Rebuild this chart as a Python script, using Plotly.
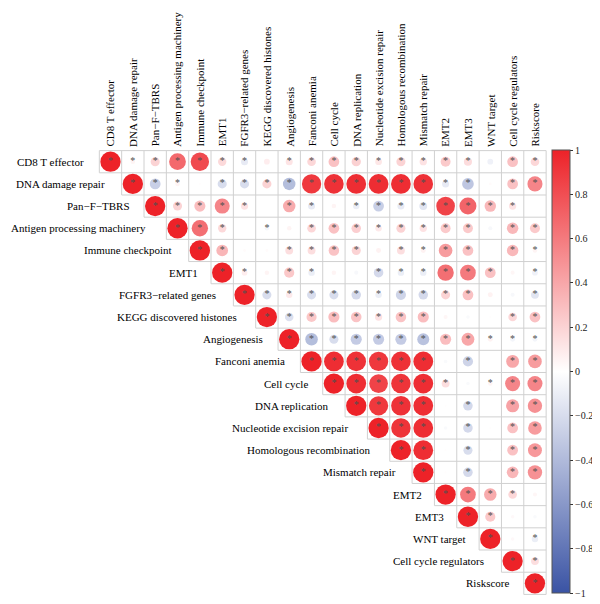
import plotly.graph_objects as go

labels = ["CD8 T effector", "DNA damage repair", "Pan−F−TBRS", "Antigen processing machinery",
          "Immune checkpoint", "EMT1", "FGFR3−related genes", "KEGG discovered histones",
          "Angiogenesis", "Fanconi anemia", "Cell cycle", "DNA replication",
          "Nucleotide excision repair", "Homologous recombination", "Mismatch repair",
          "EMT2", "EMT3", "WNT target", "Cell cycle regulators", "Riskscore"]

# upper-triangle correlations, row i lists columns i..19
r_cd8 = [1, 0.05, 0.2, 0.68, 0.82, 0.17, -0.12, 0.08, 0.12, 0.18, 0.28, 0.21, 0.11, 0.2, 0.13, 0.24, 0.16, -0.08, 0.28, 0.18]
r_ddr = [1, -0.28, 0.05, 0.01, -0.2, -0.2, 0.2, -0.38, 0.9, 0.93, 0.95, 0.95, 0.95, 0.93, -0.12, -0.33, 0.02, 0.28, 0.55]
r_pan = [1, 0.2, 0.3, 0.55, 0.13, 0.0, 0.38, -0.12, 0.05, -0.1, -0.28, -0.12, -0.15, 0.85, 0.7, 0.32, 0.13, 0.0]
r_apm = [1, 0.65, 0.17, 0.0, -0.05, 0.05, 0.18, 0.28, 0.22, 0.1, 0.2, 0.13, 0.24, 0.24, -0.04, 0.32, 0.24]
r_icp = [1, 0.33, 0.02, 0.02, 0.15, 0.15, 0.27, 0.2, 0.06, 0.15, 0.06, 0.45, 0.28, 0.0, 0.32, 0.05]
r_emt1 = [1, 0.08, 0.05, 0.25, -0.1, 0.05, -0.04, -0.22, -0.1, -0.1, 0.65, 0.6, 0.28, 0.04, -0.08]
r_fgfr3 = [1, -0.2, 0.1, -0.2, -0.2, -0.22, -0.1, -0.25, -0.22, 0.2, 0.28, 0.06, -0.04, -0.15]
r_kegg = [1, -0.18, 0.25, 0.3, 0.27, 0.13, 0.27, 0.3, 0.04, -0.03, 0.01, 0.18, 0.28]
r_angio = [1, -0.38, -0.2, -0.3, -0.3, -0.3, -0.35, 0.3, 0.4, 0.06, -0.06, -0.06]
r_fanc = [1, 0.95, 0.93, 0.9, 0.93, 0.95, -0.03, -0.25, 0.0, 0.4, 0.45]
r_cc = [1, 0.95, 0.85, 0.92, 0.95, 0.15, -0.03, 0.05, 0.55, 0.55]
r_dnarep = [1, 0.9, 0.93, 0.95, 0.01, -0.22, 0.0, 0.42, 0.5]
r_ner = [1, 0.92, 0.95, -0.03, -0.22, 0.01, 0.28, 0.45]
r_hr = [1, 0.95, 0.01, -0.2, 0.01, 0.28, 0.47]
r_mmr = [1, 0.01, -0.22, 0.01, 0.33, 0.5]
r_emt2 = [1, 0.6, 0.38, 0.18, 0.04]
r_emt3 = [1, 0.25, 0.03, -0.03]
r_wnt = [1, 0.03, -0.1]
r_ccr = [1, 0.15]
r_risk = [1]
rows = [r_cd8, r_ddr, r_pan, r_apm, r_icp, r_emt1, r_fgfr3, r_kegg, r_angio, r_fanc,
        r_cc, r_dnarep, r_ner, r_hr, r_mmr, r_emt2, r_emt3, r_wnt, r_ccr, r_risk]

# cells without a significance star (row, col)
nonsig = [(0, 7), (0, 17), (1, 4), (1, 17), (2, 7), (2, 10), (2, 19), (3, 6), (3, 8), (3, 17),
          (4, 6), (4, 7), (4, 12), (4, 17), (5, 7), (5, 10), (5, 11), (5, 18), (6, 17), (6, 18),
          (7, 15), (7, 16), (7, 17), (9, 15), (9, 17), (10, 16), (11, 15), (11, 17),
          (12, 15), (12, 17), (13, 15), (13, 17), (14, 15), (14, 17), (15, 19),
          (16, 18), (16, 19), (17, 18)]

cbar_ticks = [1, 0.8, 0.6, 0.4, 0.2, 0, -0.2, -0.4, -0.6, -0.8, -1]

n = len(labels)
OFF = 8                    # page body margin
W, H = 600 - OFF, 604 - OFF
x0px, cw = 110.5 - OFF, 22.34   # col 0 centre, cell width
y0px, ch = 161.7 - OFF, 22.19   # row 0 centre, cell height
FULL_D = 20.3             # circle diameter for |r| = 1
SERIF = "Liberation Serif, Times New Roman, serif"
FS = 11
CB_TOP, CB_BOT = 150 - OFF, 593 - OFF
CB_LEFT, CB_THICK = 551.5 - OFF, 18

xs, ys, vs, sizes = [], [], [], []
sx, sy = [], []
ns = set(nonsig)
for i, row in enumerate(rows):
    for k, v in enumerate(row):
        j = i + k
        xs.append(j); ys.append(i); vs.append(v)
        sizes.append(FULL_D * abs(v) ** 0.5)
        if (i, j) not in ns:
            sx.append(j); sy.append(i)

colorscale = [[0.0, "#3A53A4"], [0.5, "#FFFFFF"], [1.0, "#ED2228"]]

fig = go.Figure()

# grid lines (upper triangle)
gx, gy = [], []
for k in range(n + 1):
    xa = -0.5 if k == 0 else k - 1.5
    gx += [xa, n - 0.5, None]; gy += [k - 0.5, k - 0.5, None]
for m in range(n + 1):
    yb = min(m, n - 1) + 0.5
    gx += [m - 0.5, m - 0.5, None]; gy += [-0.5, yb, None]
fig.add_trace(go.Scatter(x=gx, y=gy, mode="lines", line=dict(color="#D0D0D0", width=1),
                         hoverinfo="skip", showlegend=False))

fig.add_trace(go.Scatter(
    x=xs, y=ys, mode="markers", showlegend=False,
    marker=dict(size=sizes, color=vs, colorscale=colorscale, cmin=-1, cmax=1,
                line=dict(width=0), opacity=1,
                showscale=True,
                colorbar=dict(x=CB_LEFT / W, xanchor="left",
                              y=1 - (CB_TOP + CB_BOT) / 2 / H, yanchor="middle",
                              len=(CB_BOT - CB_TOP) / H, lenmode="fraction",
                              thickness=CB_THICK, thicknessmode="pixels",
                              xpad=0, ypad=0, outlinewidth=1, outlinecolor="#555555",
                              ticks="outside", ticklen=3, tickcolor="#333333",
                              tickvals=cbar_ticks, showticklabels=False))))

fig.add_trace(go.Scatter(x=sx, y=sy, mode="text", text=["*"] * len(sx),
                         textposition="middle center",
                         textfont=dict(family=SERIF, size=10, color="#505050"),
                         hoverinfo="skip", showlegend=False))

ann = []
for i, lab in enumerate(labels):
    ann.append(dict(x=i - 0.5, y=i, xref="x", yref="y", text=lab, showarrow=False,
                    xanchor="right", yanchor="middle", xshift=-(9.5 + 0.3 * len(lab)),
                    font=dict(family=SERIF, size=FS, color="black")))
    ann.append(dict(x=i, y=-0.5, xref="x", yref="y", text=lab, showarrow=False,
                    textangle=-90, xanchor="center", yanchor="bottom", yshift=2,
                    font=dict(family=SERIF, size=FS, color="black")))

# colour-bar tick labels
for t in cbar_ticks:
    ypx = CB_TOP + (1 - t) / 2 * (CB_BOT - CB_TOP)
    ann.append(dict(x=(CB_LEFT + CB_THICK + 4) / W, y=1 - ypx / H, xref="paper", yref="paper",
                    text=("−" + str(abs(t))) if t < 0 else str(t), showarrow=False,
                    xanchor="left", yanchor="middle", borderpad=0,
                    font=dict(family=SERIF, size=10, color="#222222")))

xr = [-x0px / cw, (W - x0px) / cw]
yr = [(H - y0px) / ch, -y0px / ch]
fig.update_layout(
    width=W, height=H, margin=dict(l=0, r=0, t=0, b=0, autoexpand=False),
    paper_bgcolor="white", plot_bgcolor="white",
    xaxis=dict(range=xr, visible=False, domain=[0, 1], fixedrange=True),
    yaxis=dict(range=yr, visible=False, domain=[0, 1], fixedrange=True),
    annotations=ann,
)
fig.write_html("out.html")
